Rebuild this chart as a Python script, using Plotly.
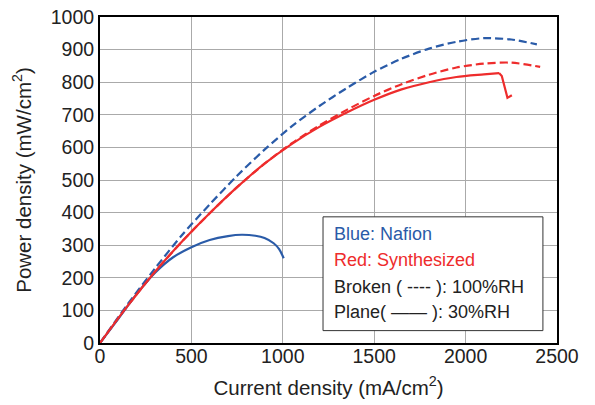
import plotly.graph_objects as go

# Nafion, 100%RH (broken)
nafion_100_x = [0, 150, 300, 450, 600, 750, 900, 1050, 1200, 1350, 1500, 1650, 1800, 1950, 2100, 2250, 2390]
nafion_100_y = [0, 118, 228, 332, 425, 513, 593, 665, 727, 782, 832, 872, 903, 924, 935, 931, 916]
# Nafion, 30%RH (plane)
nafion_30_x = [0, 100, 200, 300, 400, 500, 600, 700, 775, 850, 900, 950, 980, 1005]
nafion_30_y = [0, 74, 150, 215, 263, 294, 316, 328, 332, 329, 322, 306, 288, 260]
# Synthesized, 100%RH (broken)
synth_100_x = [0, 150, 300, 450, 600, 750, 900, 1050, 1200, 1350, 1500, 1650, 1800, 1950, 2100, 2250, 2408]
synth_100_y = [0, 113, 218, 312, 398, 478, 550, 613, 667, 715, 758, 794, 823, 845, 857, 860, 847]
# Synthesized, 30%RH (plane)
synth_30_x = [0, 150, 300, 450, 600, 750, 900, 1050, 1200, 1350, 1500, 1650, 1800, 1950, 2100, 2183, 2198, 2229, 2253]
synth_30_y = [0, 113, 218, 312, 398, 478, 550, 611, 663, 707, 746, 778, 800, 816, 824, 828, 819, 752, 760]

x_ticks = [0, 500, 1000, 1500, 2000, 2500]
y_ticks = [0, 100, 200, 300, 400, 500, 600, 700, 800, 900, 1000]

BLUE = "#2a5ba8"
RED = "#ee2c2c"
FONT = "Liberation Sans, Arial, sans-serif"

fig = go.Figure()
fig.add_trace(go.Scatter(x=nafion_100_x, y=nafion_100_y, mode="lines",
                         line=dict(color=BLUE, width=2.2, dash="8px,4px", shape="spline", smoothing=0.8)))
fig.add_trace(go.Scatter(x=synth_100_x, y=synth_100_y, mode="lines",
                         line=dict(color=RED, width=2.2, dash="8px,4px", shape="spline", smoothing=0.8)))
fig.add_trace(go.Scatter(x=nafion_30_x, y=nafion_30_y, mode="lines",
                         line=dict(color=BLUE, width=2.2, shape="spline", smoothing=0.8)))
fig.add_trace(go.Scatter(x=synth_30_x[:16], y=synth_30_y[:16], mode="lines",
                         line=dict(color=RED, width=2.2, shape="spline", smoothing=0.8)))
fig.add_trace(go.Scatter(x=synth_30_x[15:], y=synth_30_y[15:], mode="lines",
                         line=dict(color=RED, width=2.2)))

fig.add_shape(type="rect", xref="x", yref="y", x0=1220, x1=2423, y0=38, y1=387,
              line=dict(color="#333333", width=1), fillcolor="white", layer="above")

legend_lines = [
    ("Blue: Nafion", BLUE, 234),
    ("Red: Synthesized", RED, 260),
    ("Broken ( ---- ): 100%RH", "#222222", 286.5),
    ("Plane( \u2014\u2014 ): 30%RH", "#222222", 311.5),
]
for txt, col, py in legend_lines:
    fig.add_annotation(x=(332 - 100) / 457 * 2500, y=(343 - py) / 326 * 1000,
                       xref="x", yref="y", text=txt, showarrow=False,
                       xanchor="left", yanchor="middle",
                       font=dict(color=col, size=18, family=FONT))

fig.update_layout(
    width=595, height=405,
    margin=dict(l=100, r=38, t=17, b=62, autoexpand=False),
    paper_bgcolor="white", plot_bgcolor="white",
    showlegend=False,
    font=dict(family=FONT, color="#222222"),
)
fig.update_xaxes(range=[0, 2500], tickvals=x_ticks, ticktext=[str(v) for v in x_ticks],
                 showgrid=True, gridcolor="#aaaaaa", gridwidth=1, automargin=False,
                 showline=True, linecolor="black", linewidth=2, mirror=True,
                 ticks="", tickfont=dict(size=19.5), zeroline=False, ticklabelstandoff=-5,
                 title=dict(text="Current density (mA/cm<sup>2</sup>)", font=dict(size=20.5), standoff=14))
fig.update_yaxes(range=[0, 1000], tickvals=y_ticks, ticktext=[str(v) for v in y_ticks],
                 showgrid=True, gridcolor="#aaaaaa", gridwidth=1, automargin=False,
                 showline=True, linecolor="black", linewidth=2, mirror=True,
                 ticks="", tickfont=dict(size=19.5), zeroline=False,
                 title=dict(text="Power density (mW/cm<sup>2</sup>)", font=dict(size=20.5), standoff=14))

fig.write_html("out.html", config={"displayModeBar": False},
               post_script="document.body.style.margin='0';document.body.style.overflow='hidden';")
